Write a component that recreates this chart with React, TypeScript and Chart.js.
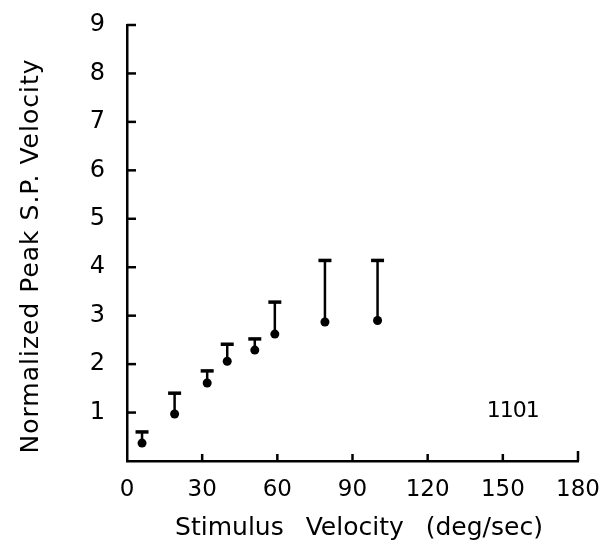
import React, { useEffect, useRef } from "react";
import { Chart, registerables } from "chart.js";

Chart.register(...registerables);

// ---- data ----
const stimulusVelocity = [6, 19, 32, 40, 51, 59, 79, 100];
const peakMean = [0.37, 0.97, 1.61, 2.06, 2.29, 2.62, 2.87, 2.9];
const peakUpper = [0.6, 1.4, 1.86, 2.41, 2.52, 3.28, 4.14, 4.14];
const xTickValues = [0, 30, 60, 90, 120, 150, 180];
const yTickLabels = ["", "1", "2", "3", "4", "5", "6", "7", "8", "9"];
const xTitle = "Stimulus Velocity (deg/sec)";
const yTitle = "Normalized Peak S.P. Velocity";
const annotationText = "1101";
const annotationAt = { x: 154, y: 1.02 };

const INK = "#000000";
const FONT = "'DejaVu Sans', sans-serif";

const sketchPlugin = {
  id: "sketchPlugin",
  beforeDatasetsDraw(chart: any) {
    const { ctx, scales } = chart;
    const xs = scales.x;
    const ys = scales.y;
    ctx.save();
    ctx.strokeStyle = INK;
    ctx.lineCap = "butt";
    for (let i = 0; i < stimulusVelocity.length; i++) {
      const px = xs.getPixelForValue(stimulusVelocity[i]);
      const py0 = ys.getPixelForValue(peakMean[i]);
      const py1 = ys.getPixelForValue(peakUpper[i]);
      ctx.lineWidth = 2.5;
      ctx.beginPath();
      ctx.moveTo(px, py0);
      ctx.lineTo(px, py1);
      ctx.stroke();
      ctx.lineWidth = 3.5;
      ctx.beginPath();
      ctx.moveTo(px - 6.5, py1);
      ctx.lineTo(px + 6.5, py1);
      ctx.stroke();
    }
    ctx.restore();
  },
  afterDraw(chart: any) {
    const { ctx, scales, chartArea } = chart;
    const xs = scales.x;
    const ys = scales.y;
    ctx.save();
    ctx.strokeStyle = INK;
    ctx.lineWidth = 2.5;
    // inward ticks on y axis
    for (let v = 1; v < yTickLabels.length; v++) {
      const py = ys.getPixelForValue(v);
      ctx.beginPath();
      ctx.moveTo(chartArea.left, py);
      ctx.lineTo(chartArea.left + 9, py);
      ctx.stroke();
    }
    // inward ticks on x axis
    for (const v of xTickValues) {
      if (v === 0) continue;
      const px = xs.getPixelForValue(v);
      ctx.beginPath();
      ctx.moveTo(px, chartArea.bottom);
      ctx.lineTo(px, chartArea.bottom - (v === 180 ? 10 : 7));
      ctx.stroke();
    }

    ctx.fillStyle = INK;
    // x title
    ctx.font = `25px ${FONT}`;
    (ctx as any).wordSpacing = "14px";
    ctx.textAlign = "center";
    ctx.textBaseline = "alphabetic";
    ctx.fillText(xTitle, 359, 535);
    (ctx as any).wordSpacing = "0px";

    // y title
    ctx.save();
    ctx.translate(38, 256);
    ctx.rotate(-Math.PI / 2);
    (ctx as any).letterSpacing = "1px";
    ctx.font = `25px ${FONT}`;
    ctx.textAlign = "center";
    ctx.textBaseline = "alphabetic";
    ctx.fillText(yTitle, 0, 0);
    ctx.restore();

    // annotation
    ctx.font = `22px ${FONT}`;
    (ctx as any).letterSpacing = "-1px";
    ctx.textAlign = "center";
    ctx.textBaseline = "middle";
    ctx.fillText(
      annotationText,
      xs.getPixelForValue(annotationAt.x),
      ys.getPixelForValue(annotationAt.y)
    );
    ctx.restore();
  },
};

export default function App() {
  const canvasRef = useRef<HTMLCanvasElement | null>(null);

  useEffect(() => {
    const canvas = canvasRef.current;
    if (!canvas) return;
    const chart = new Chart(canvas, {
      type: "scatter",
      data: {
        datasets: [
          {
            data: stimulusVelocity.map((x, i) => ({ x, y: peakMean[i] })),
            backgroundColor: INK,
            borderColor: INK,
            pointRadius: 4.5,
            pointHoverRadius: 4.5,
            borderWidth: 0,
            showLine: false,
          },
        ],
      },
      options: {
        responsive: false,
        animation: false,
        devicePixelRatio: 1,
        layout: { padding: { top: 25, right: 30, left: 0, bottom: 0 } },
        plugins: {
          legend: { display: false },
          tooltip: { enabled: false },
          title: { display: false },
        },
        scales: {
          x: {
            type: "linear",
            min: 0,
            max: 180,
            afterBuildTicks: (scale: any) => {
              scale.ticks = xTickValues.map((v) => ({ value: v }));
            },
            afterFit: (scale: any) => {
              scale.height = 88;
              scale.paddingLeft = 0;
              scale.paddingRight = 0;
            },
            grid: { display: false, drawTicks: false },
            border: { display: true, color: INK, width: 2.5 },
            ticks: {
              color: INK,
              font: { family: FONT, size: 23 },
              padding: 15,
              maxRotation: 0,
              autoSkip: false,
            },
            title: { display: false },
          },
          y: {
            type: "linear",
            min: 0,
            max: 9,
            afterBuildTicks: (scale: any) => {
              scale.ticks = yTickLabels.map((_, i) => ({ value: i }));
            },
            afterFit: (scale: any) => {
              scale.width = 127;
              scale.paddingTop = 0;
              scale.paddingBottom = 0;
            },
            grid: { display: false, drawTicks: false },
            border: { display: true, color: INK, width: 2.5 },
            ticks: {
              color: INK,
              font: { family: FONT, size: 24 },
              padding: 22,
              autoSkip: false,
              callback: (v: any) => yTickLabels[Math.round(Number(v))] ?? "",
            },
            title: { display: false },
          },
        },
      },
      plugins: [sketchPlugin],
    } as any);
    return () => chart.destroy();
  }, []);

  return (
    <div style={{ position: "absolute", left: 0, top: 0, width: 608, height: 549, background: "#fff" }}>
      <canvas ref={canvasRef} width={608} height={549} style={{ display: "block" }} />
    </div>
  );
}
